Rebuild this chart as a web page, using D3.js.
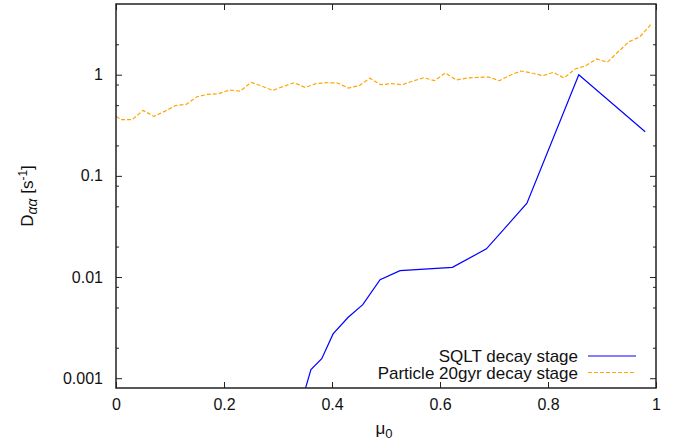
<!DOCTYPE html>
<html>
<head>
<meta charset="utf-8">
<script src="https://cdn.jsdelivr.net/npm/d3@7"></script>
<style>
  body { margin: 0; background: #fff; }
  text { font-family: "Liberation Sans", Arial, Helvetica, sans-serif; }
</style>
</head>
<body>
<script>
// orange series: Particle 20gyr decay stage
var muParticle = [0, 0.01, 0.03, 0.05, 0.07, 0.09, 0.11, 0.13, 0.15, 0.17, 0.19,
    0.21, 0.23, 0.25, 0.27, 0.29, 0.31, 0.33, 0.35, 0.37, 0.39,
    0.41, 0.43, 0.45, 0.47, 0.49, 0.51, 0.53, 0.55, 0.57, 0.59,
    0.61, 0.63, 0.65, 0.67, 0.69, 0.71, 0.73, 0.75, 0.77, 0.79,
    0.81, 0.83, 0.85, 0.87, 0.89, 0.91, 0.93, 0.95, 0.97, 0.99]
var dParticle = [0.387, 0.359, 0.359, 0.444, 0.387, 0.434, 0.494, 0.509, 0.606, 0.639, 0.649,
    0.706, 0.687, 0.839, 0.773, 0.700, 0.766, 0.834, 0.748, 0.815, 0.834,
    0.828, 0.739, 0.778, 0.923, 0.797, 0.815, 0.797, 0.867, 0.934, 0.873,
    1.04, 0.886, 0.928, 0.940, 0.949, 0.873, 0.989, 1.088, 1.04, 0.977,
    1.054, 0.928, 1.138, 1.227, 1.43, 1.33, 1.687, 2.12, 2.37, 3.12]

// blue series: SQLT decay stage
var muSqlt = [0.34, 0.361, 0.381, 0.402, 0.430, 0.457, 0.489, 0.526, 0.623, 0.686, 0.761, 0.857, 0.98]
var dSqlt = [0.0005, 0.00122, 0.00156, 0.00274, 0.0040, 0.00533, 0.0094, 0.01156, 0.01247, 0.0190, 0.0537, 1.0, 0.273]

var xTicks = [0, 0.2, 0.4, 0.6, 0.8, 1]
var xTickLabels = ['0', '0.2', '0.4', '0.6', '0.8', '1']
var yTicks = [0.001, 0.01, 0.1, 1]
var yTickLabels = ['0.001', '0.01', '0.1', '1']
var yMinorTicks = [0.002, 0.005, 0.008, 0.02, 0.05, 0.08, 0.2, 0.5, 0.8, 2]

var svgWidth = 676, svgHeight = 448
var plotLeft = 116, plotRight = 656, plotTop = 4, plotBottom = 388

var svg = d3.select('body').append('svg')
    .attr('width', svgWidth).attr('height', svgHeight)

var xScale = d3.scaleLinear().domain([0, 1]).range([plotLeft, plotRight])
var yScale = d3.scaleLog().domain([0.0008, 5]).range([plotBottom, plotTop])

// clip to plot area
svg.append('clipPath').attr('id', 'plot')
    .append('rect')
    .attr('x', plotLeft).attr('y', plotTop)
    .attr('width', plotRight - plotLeft).attr('height', plotBottom - plotTop)

// axes, gnuplot style: ticks inside, mirrored
function styleAxis(g) {
    g.select('.domain').remove()
    g.selectAll('.tick line').attr('stroke', '#222')
    g.selectAll('.tick text').attr('fill', '#111').style('font-size', '16px')
}

svg.append('g')
    .attr('transform', `translate(0, ${plotBottom})`)
    .call(d3.axisBottom(xScale).tickValues(xTicks)
        .tickFormat(function(d, i) { return xTickLabels[i] })
        .tickSize(-6).tickPadding(11))
    .call(styleAxis)

svg.append('g')
    .attr('transform', `translate(0, ${plotTop})`)
    .call(d3.axisTop(xScale).tickValues(xTicks).tickFormat('').tickSize(-6))
    .call(styleAxis)

svg.append('g')
    .attr('transform', `translate(${plotLeft}, 0)`)
    .call(d3.axisLeft(yScale).tickValues(yTicks)
        .tickFormat(function(d, i) { return yTickLabels[i] })
        .tickSize(-6).tickPadding(13))
    .call(styleAxis)

svg.append('g')
    .attr('transform', `translate(${plotLeft}, 0)`)
    .call(d3.axisLeft(yScale).tickValues(yMinorTicks).tickFormat('').tickSize(-3))
    .call(styleAxis)

svg.append('g')
    .attr('transform', `translate(${plotRight}, 0)`)
    .call(d3.axisRight(yScale).tickValues(yTicks).tickFormat('').tickSize(-6))
    .call(styleAxis)

svg.append('g')
    .attr('transform', `translate(${plotRight}, 0)`)
    .call(d3.axisRight(yScale).tickValues(yMinorTicks).tickFormat('').tickSize(-3))
    .call(styleAxis)

// lines
var particleData = muParticle.map(function(m, i) { return [m, dParticle[i]] })
var sqltData = muSqlt.map(function(m, i) { return [m, dSqlt[i]] })

var line = d3.line()
    .x(function(d) { return xScale(d[0]) })
    .y(function(d) { return yScale(d[1]) })

var plot = svg.append('g').attr('clip-path', 'url(#plot)')

plot.append('path')
    .datum(sqltData)
    .attr('d', line)
    .attr('fill', 'none')
    .attr('stroke', '#0000ff')
    .attr('stroke-width', 1.2)

plot.append('path')
    .datum(particleData)
    .attr('d', line)
    .attr('fill', 'none')
    .attr('stroke', '#ffa500')
    .attr('stroke-width', 1.2)
    .attr('stroke-dasharray', '4,2')

// frame
svg.append('rect')
    .attr('x', plotLeft).attr('y', plotTop)
    .attr('width', plotRight - plotLeft).attr('height', plotBottom - plotTop)
    .attr('fill', 'none')
    .attr('stroke', '#222')
    .attr('stroke-width', 1.5)

// legend
var legend = [
    { name: 'SQLT decay stage', color: '#0000ff', dash: null },
    { name: 'Particle 20gyr decay stage', color: '#ffa500', dash: '4,2' }
]
var lg = svg.selectAll('.legend')
    .data(legend)
    .enter().append('g')
    .attr('class', 'legend')
    .attr('transform', function(d, i) { return `translate(0, ${356 + i * 16.5})` })

lg.append('text')
    .attr('x', 578).attr('y', 0).attr('dy', '0.36em')
    .attr('text-anchor', 'end')
    .style('font-size', '17px')
    .attr('fill', '#111')
    .text(function(d) { return d.name })

lg.append('line')
    .attr('x1', 588).attr('x2', 636)
    .attr('stroke', function(d) { return d.color })
    .attr('stroke-width', 1.2)
    .attr('stroke-dasharray', function(d) { return d.dash })

// axis titles
var xt = svg.append('text')
    .attr('x', 384).attr('y', 434)
    .attr('text-anchor', 'middle')
    .style('font-size', '17px')
    .attr('fill', '#111')
xt.append('tspan').text('μ')
xt.append('tspan').attr('dy', 4).style('font-size', '13px').text('0')

var yt = svg.append('text')
    .attr('transform', 'translate(33, 196) rotate(-90)')
    .attr('text-anchor', 'middle')
    .style('font-size', '17px')
    .attr('fill', '#111')
yt.append('tspan').text('D')
yt.append('tspan').attr('dy', 4).style('font-size', '14px').style('font-style', 'italic').text('αα')
yt.append('tspan').attr('dy', -4).text(' [s')
yt.append('tspan').attr('dy', -6).style('font-size', '12px').text('-1')
yt.append('tspan').attr('dy', 6).text(']')
</script>
</body>
</html>
